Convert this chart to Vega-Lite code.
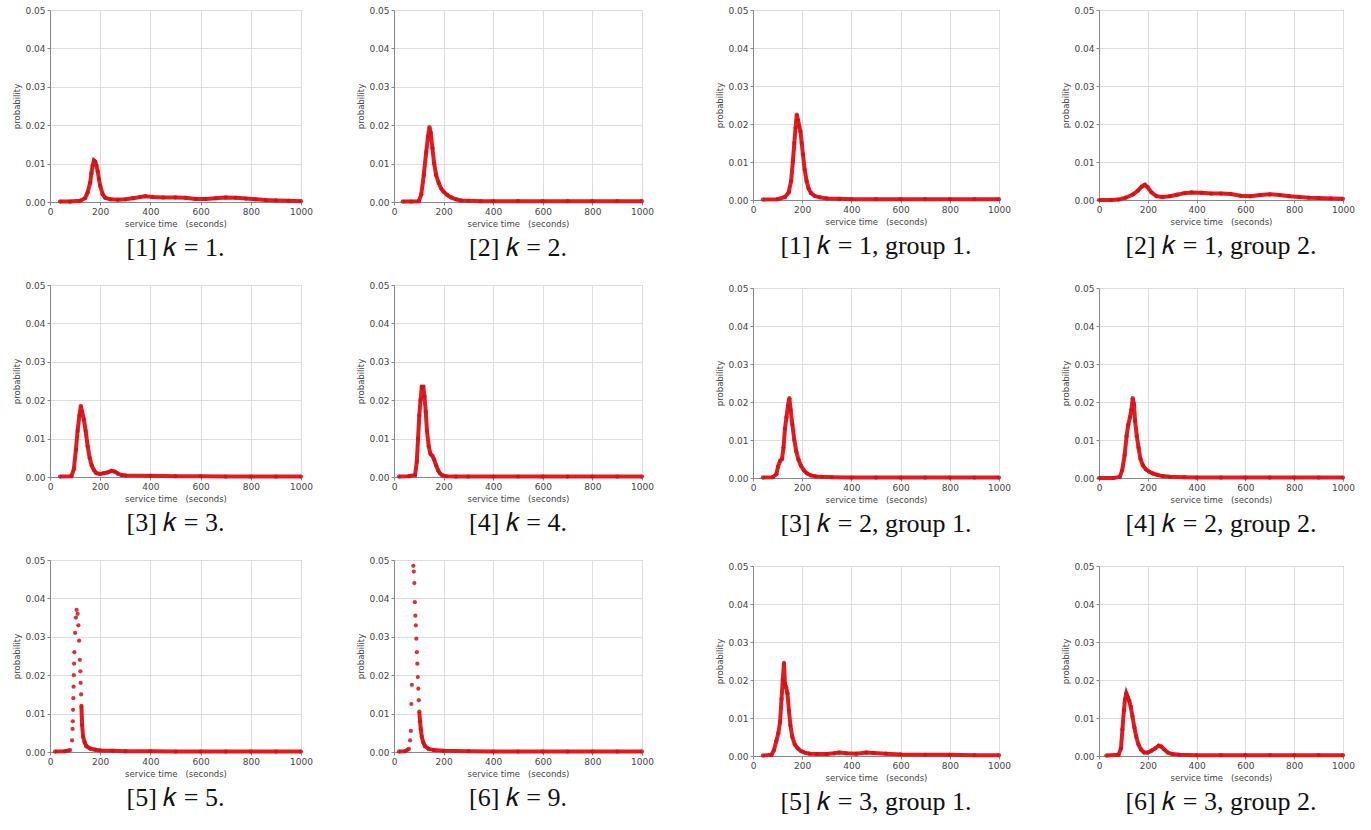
{
"$schema": "https://vega.github.io/schema/vega-lite/v6.json",
"padding": {"left": 12, "top": 5, "right": 0, "bottom": 0},
"background": "white",
"datasets": {
"L1": [{"t":40,"p":0.0001},{"t":80,"p":0.0001},{"t":120,"p":0.0003},{"t":140,"p":0.001},{"t":150,"p":0.0025},{"t":160,"p":0.005},{"t":165,"p":0.0075},{"t":170,"p":0.0095},{"t":175,"p":0.0108},{"t":180,"p":0.0105},{"t":185,"p":0.0095},{"t":190,"p":0.008},{"t":195,"p":0.006},{"t":200,"p":0.0042},{"t":210,"p":0.002},{"t":220,"p":0.0011},{"t":240,"p":0.0007},{"t":270,"p":0.0006},{"t":300,"p":0.0007},{"t":330,"p":0.001},{"t":360,"p":0.0013},{"t":380,"p":0.0015},{"t":410,"p":0.0013},{"t":450,"p":0.0012},{"t":500,"p":0.0012},{"t":540,"p":0.0011},{"t":580,"p":0.0008},{"t":620,"p":0.0008},{"t":660,"p":0.001},{"t":700,"p":0.0012},{"t":740,"p":0.0011},{"t":780,"p":0.0009},{"t":820,"p":0.0007},{"t":860,"p":0.0005},{"t":900,"p":0.0004},{"t":950,"p":0.0003},{"t":1000,"p":0.0002}],
"L2": [{"t":35,"p":0.0001},{"t":70,"p":0.0001},{"t":100,"p":0.0002},{"t":110,"p":0.002},{"t":120,"p":0.007},{"t":130,"p":0.013},{"t":137,"p":0.017},{"t":143,"p":0.0195},{"t":148,"p":0.018},{"t":155,"p":0.014},{"t":162,"p":0.01},{"t":170,"p":0.007},{"t":180,"p":0.005},{"t":190,"p":0.0035},{"t":200,"p":0.0027},{"t":215,"p":0.0018},{"t":230,"p":0.0012},{"t":250,"p":0.0007},{"t":270,"p":0.0004},{"t":300,"p":0.0003},{"t":350,"p":0.0002},{"t":400,"p":0.0002},{"t":500,"p":0.0002},{"t":600,"p":0.0002},{"t":700,"p":0.0002},{"t":800,"p":0.0002},{"t":900,"p":0.0002},{"t":1000,"p":0.0002}],
"L3": [{"t":40,"p":0.0001},{"t":85,"p":0.0002},{"t":95,"p":0.002},{"t":103,"p":0.007},{"t":110,"p":0.012},{"t":117,"p":0.016},{"t":123,"p":0.0185},{"t":128,"p":0.017},{"t":135,"p":0.015},{"t":142,"p":0.012},{"t":150,"p":0.008},{"t":158,"p":0.005},{"t":166,"p":0.003},{"t":175,"p":0.0018},{"t":185,"p":0.001},{"t":200,"p":0.0008},{"t":215,"p":0.001},{"t":230,"p":0.0012},{"t":245,"p":0.0016},{"t":258,"p":0.0014},{"t":270,"p":0.0009},{"t":285,"p":0.0005},{"t":300,"p":0.0004},{"t":400,"p":0.0003},{"t":500,"p":0.0002},{"t":600,"p":0.0002},{"t":700,"p":0.0001},{"t":800,"p":0.0001},{"t":900,"p":0.0001},{"t":1000,"p":0.0001}],
"L4": [{"t":20,"p":0.0001},{"t":60,"p":0.0002},{"t":85,"p":0.0005},{"t":92,"p":0.004},{"t":97,"p":0.01},{"t":102,"p":0.016},{"t":107,"p":0.02},{"t":112,"p":0.0235},{"t":118,"p":0.0235},{"t":123,"p":0.021},{"t":128,"p":0.017},{"t":133,"p":0.012},{"t":140,"p":0.008},{"t":147,"p":0.006},{"t":155,"p":0.0055},{"t":162,"p":0.0045},{"t":170,"p":0.003},{"t":178,"p":0.0017},{"t":186,"p":0.0009},{"t":195,"p":0.0004},{"t":210,"p":0.0002},{"t":250,"p":0.0001},{"t":300,"p":0.0001},{"t":400,"p":0.0001},{"t":500,"p":0.0001},{"t":600,"p":0.0001},{"t":700,"p":0.0001},{"t":800,"p":0.0001},{"t":900,"p":0.0001},{"t":1000,"p":0.0001}],
"L5": [{"t":20,"p":0.0001},{"t":60,"p":0.0002},{"t":80,"p":0.0005},{"t":88,"p":0.003},{"t":90,"p":0.006},{"t":91,"p":0.008},{"t":92,"p":0.011},{"t":93,"p":0.014},{"t":94,"p":0.017},{"t":95,"p":0.02},{"t":96,"p":0.023},{"t":97,"p":0.026},{"t":100,"p":0.031},{"t":103,"p":0.035},{"t":106,"p":0.037},{"t":110,"p":0.036},{"t":113,"p":0.033},{"t":116,"p":0.029},{"t":119,"p":0.024},{"t":121,"p":0.021},{"t":122,"p":0.018},{"t":124,"p":0.015},{"t":125,"p":0.012},{"t":128,"p":0.007},{"t":132,"p":0.004},{"t":138,"p":0.0025},{"t":145,"p":0.0015},{"t":160,"p":0.0009},{"t":180,"p":0.0006},{"t":200,"p":0.0004},{"t":250,"p":0.0003},{"t":300,"p":0.0002},{"t":400,"p":0.0002},{"t":500,"p":0.0001},{"t":600,"p":0.0001},{"t":700,"p":0.0001},{"t":800,"p":0.0001},{"t":900,"p":0.0001},{"t":1000,"p":0.0001}],
"L6": [{"t":20,"p":0.0001},{"t":45,"p":0.0002},{"t":60,"p":0.0008},{"t":65,"p":0.003},{"t":68,"p":0.0055},{"t":70,"p":0.0125},{"t":72,"p":0.0175},{"t":78,"p":0.0485},{"t":80,"p":0.047},{"t":82,"p":0.044},{"t":84,"p":0.039},{"t":86,"p":0.0355},{"t":88,"p":0.033},{"t":90,"p":0.0295},{"t":92,"p":0.026},{"t":94,"p":0.023},{"t":96,"p":0.0195},{"t":98,"p":0.0165},{"t":100,"p":0.0135},{"t":102,"p":0.0105},{"t":105,"p":0.008},{"t":108,"p":0.006},{"t":112,"p":0.004},{"t":118,"p":0.0025},{"t":125,"p":0.0015},{"t":140,"p":0.0008},{"t":160,"p":0.0005},{"t":200,"p":0.0003},{"t":300,"p":0.0002},{"t":400,"p":0.0001},{"t":500,"p":0.0001},{"t":600,"p":0.0001},{"t":700,"p":0.0001},{"t":800,"p":0.0001},{"t":900,"p":0.0001},{"t":1000,"p":0.0001}],
"R1": [{"t":40,"p":0.0001},{"t":100,"p":0.0002},{"t":130,"p":0.0008},{"t":145,"p":0.002},{"t":155,"p":0.005},{"t":162,"p":0.01},{"t":168,"p":0.015},{"t":173,"p":0.019},{"t":178,"p":0.0225},{"t":183,"p":0.021},{"t":188,"p":0.0195},{"t":193,"p":0.018},{"t":198,"p":0.015},{"t":203,"p":0.012},{"t":210,"p":0.008},{"t":218,"p":0.005},{"t":226,"p":0.003},{"t":236,"p":0.0018},{"t":250,"p":0.0011},{"t":270,"p":0.0007},{"t":300,"p":0.0004},{"t":350,"p":0.0003},{"t":400,"p":0.0002},{"t":500,"p":0.0002},{"t":600,"p":0.0002},{"t":700,"p":0.0002},{"t":800,"p":0.0002},{"t":900,"p":0.0002},{"t":1000,"p":0.0002}],
"R2": [{"t":0,"p":0},{"t":50,"p":0},{"t":80,"p":0.0001},{"t":110,"p":0.0006},{"t":140,"p":0.0015},{"t":160,"p":0.0025},{"t":175,"p":0.0035},{"t":188,"p":0.004},{"t":200,"p":0.0033},{"t":215,"p":0.002},{"t":235,"p":0.001},{"t":260,"p":0.0008},{"t":290,"p":0.001},{"t":320,"p":0.0014},{"t":350,"p":0.0018},{"t":380,"p":0.002},{"t":420,"p":0.0019},{"t":460,"p":0.0017},{"t":500,"p":0.0017},{"t":540,"p":0.0016},{"t":580,"p":0.0011},{"t":620,"p":0.001},{"t":660,"p":0.0013},{"t":700,"p":0.0015},{"t":740,"p":0.0013},{"t":780,"p":0.001},{"t":820,"p":0.0008},{"t":860,"p":0.0006},{"t":900,"p":0.0005},{"t":950,"p":0.0004},{"t":1000,"p":0.0003}],
"R3": [{"t":40,"p":0.0001},{"t":80,"p":0.0002},{"t":95,"p":0.001},{"t":102,"p":0.003},{"t":110,"p":0.0045},{"t":118,"p":0.005},{"t":124,"p":0.008},{"t":130,"p":0.013},{"t":136,"p":0.016},{"t":142,"p":0.019},{"t":148,"p":0.021},{"t":153,"p":0.018},{"t":160,"p":0.014},{"t":168,"p":0.01},{"t":176,"p":0.007},{"t":185,"p":0.0048},{"t":195,"p":0.0032},{"t":207,"p":0.002},{"t":220,"p":0.0012},{"t":235,"p":0.0007},{"t":255,"p":0.0004},{"t":280,"p":0.0003},{"t":320,"p":0.0002},{"t":400,"p":0.0001},{"t":500,"p":0.0001},{"t":600,"p":0.0001},{"t":700,"p":0.0001},{"t":800,"p":0.0001},{"t":900,"p":0.0001},{"t":1000,"p":0.0001}],
"R4": [{"t":0,"p":0},{"t":60,"p":0},{"t":85,"p":0.0003},{"t":95,"p":0.002},{"t":105,"p":0.006},{"t":113,"p":0.011},{"t":120,"p":0.014},{"t":127,"p":0.016},{"t":133,"p":0.018},{"t":138,"p":0.021},{"t":143,"p":0.0195},{"t":148,"p":0.015},{"t":155,"p":0.011},{"t":162,"p":0.008},{"t":170,"p":0.005},{"t":180,"p":0.0033},{"t":192,"p":0.0023},{"t":205,"p":0.0017},{"t":220,"p":0.0012},{"t":240,"p":0.0008},{"t":260,"p":0.0005},{"t":290,"p":0.0003},{"t":350,"p":0.0002},{"t":400,"p":0.0001},{"t":500,"p":0.0001},{"t":600,"p":0.0001},{"t":700,"p":0.0001},{"t":800,"p":0.0001},{"t":900,"p":0.0001},{"t":1000,"p":0.0001}],
"R5": [{"t":40,"p":0.0001},{"t":75,"p":0.0003},{"t":85,"p":0.0015},{"t":95,"p":0.004},{"t":103,"p":0.006},{"t":110,"p":0.009},{"t":116,"p":0.015},{"t":121,"p":0.02},{"t":126,"p":0.0245},{"t":130,"p":0.019},{"t":135,"p":0.018},{"t":140,"p":0.0165},{"t":146,"p":0.012},{"t":152,"p":0.008},{"t":160,"p":0.005},{"t":170,"p":0.003},{"t":182,"p":0.002},{"t":195,"p":0.0013},{"t":210,"p":0.0009},{"t":230,"p":0.0006},{"t":260,"p":0.0005},{"t":300,"p":0.0005},{"t":330,"p":0.0007},{"t":350,"p":0.0009},{"t":380,"p":0.0007},{"t":420,"p":0.0006},{"t":460,"p":0.0009},{"t":490,"p":0.0008},{"t":540,"p":0.0006},{"t":600,"p":0.0004},{"t":700,"p":0.0003},{"t":800,"p":0.0003},{"t":900,"p":0.0002},{"t":1000,"p":0.0002}],
"R6": [{"t":30,"p":0.0001},{"t":80,"p":0.0003},{"t":90,"p":0.002},{"t":96,"p":0.007},{"t":102,"p":0.012},{"t":107,"p":0.015},{"t":112,"p":0.0165},{"t":118,"p":0.0155},{"t":124,"p":0.0145},{"t":130,"p":0.013},{"t":137,"p":0.0105},{"t":145,"p":0.0075},{"t":153,"p":0.005},{"t":162,"p":0.003},{"t":172,"p":0.0017},{"t":185,"p":0.0009},{"t":200,"p":0.0009},{"t":215,"p":0.0014},{"t":230,"p":0.002},{"t":245,"p":0.0027},{"t":255,"p":0.0025},{"t":268,"p":0.0017},{"t":282,"p":0.0009},{"t":300,"p":0.0005},{"t":330,"p":0.0003},{"t":400,"p":0.0002},{"t":500,"p":0.0002},{"t":600,"p":0.0002},{"t":700,"p":0.0002},{"t":800,"p":0.0002},{"t":900,"p":0.0002},{"t":1000,"p":0.0002}]
},
"spacing": 61,
"hconcat": [
 {"spacing": 43, "hconcat": [
  {"bounds": "flush", "spacing": 83, "vconcat": [
   {"width": 251, "height": 192, "data": {"name": "L1"}, "title": "[1] 𝑘 = 1.",
    "encoding": {"x": {"field": "t", "type": "quantitative", "scale": {"domain": [0, 1000], "nice": false}, "axis": {"values": [0,200,400,600,800,1000], "format": "d", "title": "service time\u00a0\u00a0\u00a0(seconds)"}}, "y": {"field": "p", "type": "quantitative", "scale": {"domain": [0, 0.05], "nice": false}, "axis": {"values": [0,0.01,0.02,0.03,0.04,0.05], "format": ".2f", "title": "probability"}}},
    "layer": [{"mark": "line", "encoding": {}}, {"mark": "point", "encoding": {}}]},
   {"width": 251, "height": 192, "data": {"name": "L3"}, "title": "[3] 𝑘 = 3.",
    "encoding": {"x": {"field": "t", "type": "quantitative", "scale": {"domain": [0, 1000], "nice": false}, "axis": {"values": [0,200,400,600,800,1000], "format": "d", "title": "service time\u00a0\u00a0\u00a0(seconds)"}}, "y": {"field": "p", "type": "quantitative", "scale": {"domain": [0, 0.05], "nice": false}, "axis": {"values": [0,0.01,0.02,0.03,0.04,0.05], "format": ".2f", "title": "probability"}}},
    "layer": [{"mark": "line", "encoding": {}}, {"mark": "point", "encoding": {}}]},
   {"width": 251, "height": 192, "data": {"name": "L5"}, "title": "[5] 𝑘 = 5.",
    "encoding": {"x": {"field": "t", "type": "quantitative", "scale": {"domain": [0, 1000], "nice": false}, "axis": {"values": [0,200,400,600,800,1000], "format": "d", "title": "service time\u00a0\u00a0\u00a0(seconds)"}}, "y": {"field": "p", "type": "quantitative", "scale": {"domain": [0, 0.05], "nice": false}, "axis": {"values": [0,0.01,0.02,0.03,0.04,0.05], "format": ".2f", "title": "probability"}}},
    "layer": [{"transform": [{"filter": "datum.t <= 85"}], "mark": "line", "encoding": {}}, {"transform": [{"filter": "datum.t >= 125"}], "mark": "line", "encoding": {}}, {"mark": "point", "encoding": {}}]}
  ]},
  {"bounds": "flush", "spacing": 83, "vconcat": [
   {"width": 248, "height": 192, "data": {"name": "L2"}, "title": "[2] 𝑘 = 2.",
    "encoding": {"x": {"field": "t", "type": "quantitative", "scale": {"domain": [0, 1000], "nice": false}, "axis": {"values": [0,200,400,600,800,1000], "format": "d", "title": "service time\u00a0\u00a0\u00a0(seconds)"}}, "y": {"field": "p", "type": "quantitative", "scale": {"domain": [0, 0.05], "nice": false}, "axis": {"values": [0,0.01,0.02,0.03,0.04,0.05], "format": ".2f", "title": "probability"}}},
    "layer": [{"mark": "line", "encoding": {}}, {"mark": "point", "encoding": {}}]},
   {"width": 248, "height": 192, "data": {"name": "L4"}, "title": "[4] 𝑘 = 4.",
    "encoding": {"x": {"field": "t", "type": "quantitative", "scale": {"domain": [0, 1000], "nice": false}, "axis": {"values": [0,200,400,600,800,1000], "format": "d", "title": "service time\u00a0\u00a0\u00a0(seconds)"}}, "y": {"field": "p", "type": "quantitative", "scale": {"domain": [0, 0.05], "nice": false}, "axis": {"values": [0,0.01,0.02,0.03,0.04,0.05], "format": ".2f", "title": "probability"}}},
    "layer": [{"mark": "line", "encoding": {}}, {"mark": "point", "encoding": {}}]},
   {"width": 248, "height": 192, "data": {"name": "L6"}, "title": "[6] 𝑘 = 9.",
    "encoding": {"x": {"field": "t", "type": "quantitative", "scale": {"domain": [0, 1000], "nice": false}, "axis": {"values": [0,200,400,600,800,1000], "format": "d", "title": "service time\u00a0\u00a0\u00a0(seconds)"}}, "y": {"field": "p", "type": "quantitative", "scale": {"domain": [0, 0.05], "nice": false}, "axis": {"values": [0,0.01,0.02,0.03,0.04,0.05], "format": ".2f", "title": "probability"}}},
    "layer": [{"transform": [{"filter": "datum.t <= 60"}], "mark": "line", "encoding": {}}, {"transform": [{"filter": "datum.t >= 102"}], "mark": "line", "encoding": {}}, {"mark": "point", "encoding": {}}]}
  ]}
 ]},
 {"spacing": 50, "hconcat": [
  {"bounds": "flush", "spacing": 88, "vconcat": [
   {"width": 246, "height": 190, "data": {"name": "R1"}, "title": "[1] 𝑘 = 1, group 1.",
    "encoding": {"x": {"field": "t", "type": "quantitative", "scale": {"domain": [0, 1000], "nice": false}, "axis": {"values": [0,200,400,600,800,1000], "format": "d", "title": "service time\u00a0\u00a0\u00a0(seconds)"}}, "y": {"field": "p", "type": "quantitative", "scale": {"domain": [0, 0.05], "nice": false}, "axis": {"values": [0,0.01,0.02,0.03,0.04,0.05], "format": ".2f", "title": "probability"}}},
    "layer": [{"mark": "line", "encoding": {}}, {"mark": "point", "encoding": {}}]},
   {"width": 246, "height": 190, "data": {"name": "R3"}, "title": "[3] 𝑘 = 2, group 1.",
    "encoding": {"x": {"field": "t", "type": "quantitative", "scale": {"domain": [0, 1000], "nice": false}, "axis": {"values": [0,200,400,600,800,1000], "format": "d", "title": "service time\u00a0\u00a0\u00a0(seconds)"}}, "y": {"field": "p", "type": "quantitative", "scale": {"domain": [0, 0.05], "nice": false}, "axis": {"values": [0,0.01,0.02,0.03,0.04,0.05], "format": ".2f", "title": "probability"}}},
    "layer": [{"mark": "line", "encoding": {}}, {"mark": "point", "encoding": {}}]},
   {"width": 246, "height": 190, "data": {"name": "R5"}, "title": "[5] 𝑘 = 3, group 1.",
    "encoding": {"x": {"field": "t", "type": "quantitative", "scale": {"domain": [0, 1000], "nice": false}, "axis": {"values": [0,200,400,600,800,1000], "format": "d", "title": "service time\u00a0\u00a0\u00a0(seconds)"}}, "y": {"field": "p", "type": "quantitative", "scale": {"domain": [0, 0.05], "nice": false}, "axis": {"values": [0,0.01,0.02,0.03,0.04,0.05], "format": ".2f", "title": "probability"}}},
    "layer": [{"mark": "line", "encoding": {}}, {"mark": "point", "encoding": {}}]}
  ]},
  {"bounds": "flush", "spacing": 88, "vconcat": [
   {"width": 244, "height": 190, "data": {"name": "R2"}, "title": "[2] 𝑘 = 1, group 2.",
    "encoding": {"x": {"field": "t", "type": "quantitative", "scale": {"domain": [0, 1000], "nice": false}, "axis": {"values": [0,200,400,600,800,1000], "format": "d", "title": "service time\u00a0\u00a0\u00a0(seconds)"}}, "y": {"field": "p", "type": "quantitative", "scale": {"domain": [0, 0.05], "nice": false}, "axis": {"values": [0,0.01,0.02,0.03,0.04,0.05], "format": ".2f", "title": "probability"}}},
    "layer": [{"mark": "line", "encoding": {}}, {"mark": "point", "encoding": {}}]},
   {"width": 244, "height": 190, "data": {"name": "R4"}, "title": "[4] 𝑘 = 2, group 2.",
    "encoding": {"x": {"field": "t", "type": "quantitative", "scale": {"domain": [0, 1000], "nice": false}, "axis": {"values": [0,200,400,600,800,1000], "format": "d", "title": "service time\u00a0\u00a0\u00a0(seconds)"}}, "y": {"field": "p", "type": "quantitative", "scale": {"domain": [0, 0.05], "nice": false}, "axis": {"values": [0,0.01,0.02,0.03,0.04,0.05], "format": ".2f", "title": "probability"}}},
    "layer": [{"mark": "line", "encoding": {}}, {"mark": "point", "encoding": {}}]},
   {"width": 244, "height": 190, "data": {"name": "R6"}, "title": "[6] 𝑘 = 3, group 2.",
    "encoding": {"x": {"field": "t", "type": "quantitative", "scale": {"domain": [0, 1000], "nice": false}, "axis": {"values": [0,200,400,600,800,1000], "format": "d", "title": "service time\u00a0\u00a0\u00a0(seconds)"}}, "y": {"field": "p", "type": "quantitative", "scale": {"domain": [0, 0.05], "nice": false}, "axis": {"values": [0,0.01,0.02,0.03,0.04,0.05], "format": ".2f", "title": "probability"}}},
    "layer": [{"mark": "line", "encoding": {}}, {"mark": "point", "encoding": {}}]}
  ]}
 ]}
],
"config": {
 "view": {"stroke": "#9a9a9a", "strokeWidth": 1},
 "axis": {"labelFont": "DejaVu Sans", "labelFontSize": 9, "labelColor": "#444", "labelFlush": false, "labelOverlap": false, "titleFont": "DejaVu Sans", "titleFontSize": 8.5, "titleFontWeight": "normal", "titleColor": "#444", "gridColor": "#dddddd", "domainColor": "#888", "tickColor": "#888", "tickSize": 3, "labelPadding": 2, "titlePadding": 3},
 "line": {"color": "#e41a1c", "strokeWidth": 4},
 "point": {"filled": true, "color": "#d0121b", "size": 18, "opacity": 0.85},
 "title": {"orient": "bottom", "anchor": "middle", "font": "Liberation Serif", "fontSize": 26, "fontWeight": "normal", "color": "#111", "offset": 7}
}
}
